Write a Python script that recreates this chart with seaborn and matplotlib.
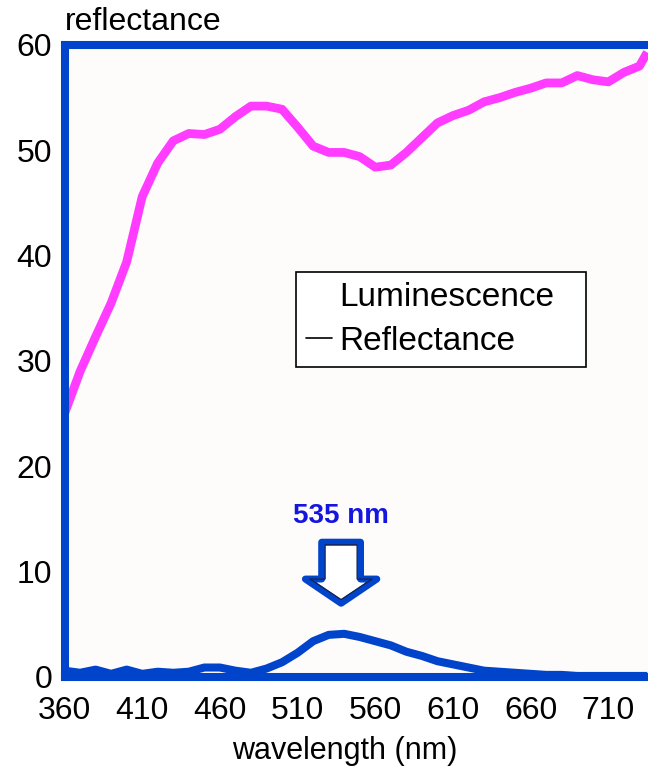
import pandas as pd
import seaborn as sns
import matplotlib.pyplot as plt
from matplotlib.lines import Line2D
from matplotlib.patches import FancyArrow

# Spectra (10 nm steps)
wavelength = [360, 370, 380, 390, 400, 410, 420, 430, 440, 450,
              460, 470, 480, 490, 500, 510, 520, 530, 540, 550,
              560, 570, 580, 590, 600, 610, 620, 630, 640, 650,
              660, 670, 680, 690, 700, 710, 720, 730, 735]
reflectance = [25.0, 29.0, 32.3, 35.5, 39.4, 45.6, 48.8, 50.9, 51.6, 51.5,
               52.0, 53.2, 54.2, 54.2, 53.9, 52.2, 50.4, 49.8, 49.8, 49.4,
               48.4, 48.6, 49.8, 51.2, 52.6, 53.3, 53.8, 54.6, 55.0, 55.5,
               55.9, 56.4, 56.4, 57.1, 56.7, 56.5, 57.4, 58.0, 59.3]
luminescence = [0.6, 0.4, 0.7, 0.3, 0.7, 0.3, 0.5, 0.4, 0.5, 0.9,
                0.9, 0.6, 0.4, 0.8, 1.4, 2.3, 3.4, 4.0, 4.1, 3.8,
                3.4, 3.0, 2.4, 2.0, 1.5, 1.2, 0.9, 0.6, 0.5, 0.4,
                0.3, 0.2, 0.2, 0.1, 0.1, 0.1, 0.1, 0.1, 0.1]

x_ticks = [360, 410, 460, 510, 560, 610, 660, 710]
y_ticks = [0, 10, 20, 30, 40, 50, 60]
peak_label = "535 nm"
peak_nm = 538

df = pd.DataFrame({"wavelength": wavelength,
                   "reflectance": reflectance,
                   "luminescence": luminescence})

sns.set_style("white")
plt.rcParams["font.family"] = ["Liberation Sans", "DejaVu Sans"]
plt.rcParams["text.color"] = "black"
plt.rcParams["xtick.color"] = "black"
plt.rcParams["ytick.color"] = "black"
plt.rcParams["axes.labelcolor"] = "black"

blue = "#0044cc"
magenta = "#ff3cff"

fig = plt.figure(figsize=(6.48, 7.76), dpi=100)
ax = fig.add_axes([64.5 / 648, 1 - 677 / 776, (648 - 64.5) / 648, (677 - 45) / 776])
ax.set_facecolor("#fdfcfa")

sns.lineplot(data=df, x="wavelength", y="reflectance", ax=ax, color=magenta,
             linewidth=6.3, solid_capstyle="butt", solid_joinstyle="round", zorder=3)
sns.lineplot(data=df, x="wavelength", y="luminescence", ax=ax, color=blue,
             linewidth=5.8, solid_capstyle="butt", solid_joinstyle="round", zorder=3)

ax.set_xlim(360, 735.5)
ax.set_ylim(0, 60)
ax.set_xticks(x_ticks)
ax.set_yticks(y_ticks)
ax.tick_params(axis="both", length=0, labelsize=23, labelcolor="black")
ax.tick_params(axis="x", pad=14)
ax.tick_params(axis="y", pad=9)

for side in ["left", "top", "bottom"]:
    ax.spines[side].set_color(blue)
    ax.spines[side].set_linewidth(5.8)
    ax.spines[side].set_capstyle("projecting")
    ax.spines[side].set_zorder(4)
ax.spines["right"].set_visible(False)

ax.set_ylabel("")
ax.set_xlabel("wavelength (nm)", fontsize=22, color="black")
ax.xaxis.set_label_coords(0.481, -0.093)
ax.text(0.0, 1.013, "reflectance", transform=ax.transAxes, fontsize=23,
        ha="left", va="bottom")

# peak marker
ax.text(peak_nm, 15.3, peak_label, color="#1515e0", fontsize=20,
        fontweight="bold", ha="center", va="center")
arrow = FancyArrow(peak_nm, 12.8, 0, -5.8, width=25, head_width=46,
                   head_length=2.3, length_includes_head=True,
                   facecolor="white", edgecolor=blue, linewidth=5,
                   joinstyle="round", zorder=5)
ax.add_patch(arrow)
inner = FancyArrow(peak_nm, 12.55, 0, -5.2, width=20.5, head_width=40,
                   head_length=1.95, length_includes_head=True,
                   facecolor="none", edgecolor="#1a2040", linewidth=0.8,
                   joinstyle="round", zorder=6)
ax.add_patch(inner)

handles = [Line2D([], [], color="none"),
           Line2D([], [], color="black", linewidth=1.2)]
leg = ax.legend(handles, ["Luminescence", "Reflectance"],
                loc="upper left", bbox_to_anchor=(0.396, 0.491, 0.498, 0.15),
                mode="expand", fontsize=24, frameon=True, fancybox=False,
                edgecolor="black", framealpha=1, handlelength=0.8,
                handletextpad=0.2, labelspacing=0.38, borderpad=0.3,
                borderaxespad=0)
leg.get_frame().set_linewidth(1.2)
for t in leg.get_texts():
    t.set_color("black")

plt.savefig("out.png", dpi=100)
